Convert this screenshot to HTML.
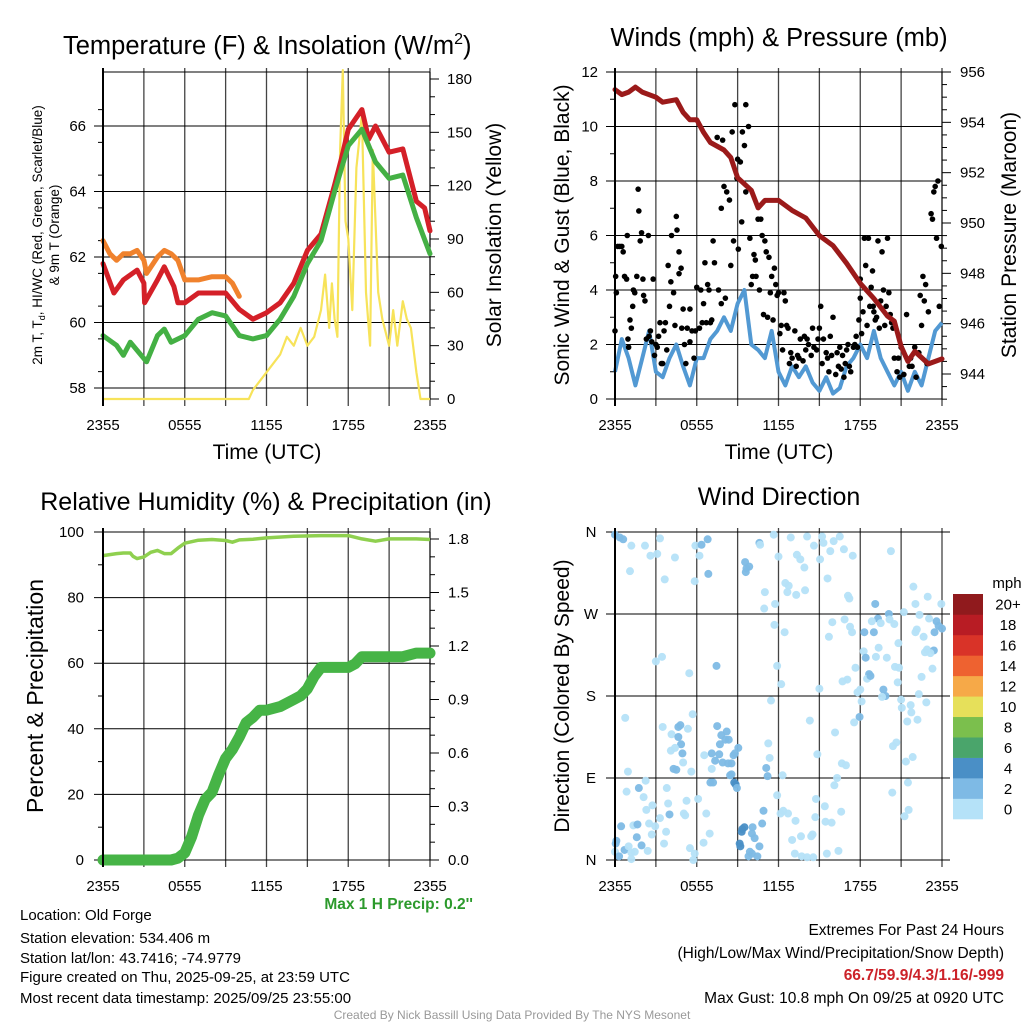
<!DOCTYPE html>
<html><head><meta charset="utf-8"><style>
body{margin:0;background:#fff;}
svg{display:block;font-family:"Liberation Sans",sans-serif;}
</style></head><body>
<svg id="c" width="1024" height="1024" viewBox="0 0 1024 1024"></svg>
<script>
// ---------- DATA ----------
const tempT = [0,0.8,1.5,2.5,3,3.05,4,4.5,5.2,5.5,6,7,8,9,10,11,12,13,14,15,16,17,17.5,18,19,19.5,20,21,22,23,23.6,24];
const tempV = [61.8,60.9,61.3,61.6,61.2,60.6,61.3,61.7,61.1,60.6,60.6,60.9,60.9,60.9,60.4,60.1,60.3,60.6,61.2,62.2,62.7,64.2,65.0,65.9,66.5,65.6,66.0,65.2,65.3,63.7,63.5,62.8];
const dewT = [0,1,1.5,2,3,3.2,4,4.5,5,6,7,8,9,10,11,12,13,14,15,16,17,18,19,20,21,22,23,24];
const dewV = [59.6,59.3,59.0,59.4,58.9,58.8,59.6,59.8,59.4,59.6,60.1,60.3,60.2,59.6,59.5,59.6,60.1,60.8,61.8,62.5,64.0,65.4,65.9,64.9,64.4,64.5,63.2,62.1];
const t9T = [0,0.5,1,1.5,2,2.5,3,3.2,4,4.5,5,5.5,6,7,8,9,9.5,10];
const t9V = [62.5,62.1,61.9,62.1,62.1,62.2,61.9,61.5,62.0,62.2,62.1,61.9,61.3,61.3,61.4,61.4,61.2,60.8];
const solT = [0,10.7,11,11.5,12,12.5,13,13.5,14,14.5,15,15.5,16,16.3,16.6,16.8,17,17.2,17.4,17.6,17.8,18,18.3,18.6,19,19.3,19.6,19.8,20.2,20.5,21,21.3,21.6,22,22.3,22.6,23,23.3,24];
const solV = [0,0,5,10,15,20,25,35,30,40,30,35,50,70,40,65,45,35,140,185,100,90,50,130,160,60,30,140,60,45,30,50,30,55,45,40,15,0,0];
const windT = [0,0.5,1,1.5,2,2.5,3,3.5,4,4.5,5,5.5,6,6.5,7,7.5,8,8.5,9,9.5,10,10.5,11,11.5,12,12.5,13,13.5,14,14.5,15,15.5,16,16.5,17,17.5,18,18.5,19,19.5,20,20.5,21,21.5,22,22.5,23,23.5,24];
const windV = [1,2.2,1.5,0.5,1.5,2.5,1,0.8,1.5,2,1.2,0.5,1.5,1.5,2.2,2.5,3,2.5,3.5,4,2,1.8,1.5,2.5,1,0.5,1.2,0.8,1.2,0.6,0.3,0.8,0.2,0.4,1.2,1.5,2,1.5,2.5,1.5,1,0.5,1,0.3,1,0.5,1.5,2.5,2.8];
const presT = [0,0.5,1,1.5,2,3,3.5,4.5,5,5.5,6,6.5,7,8,8.5,9,10,10.5,11,12,13,14,15,16,17,18,19,20,20.5,21,21.5,22,23,24];
const presV = [955.3,955.1,955.2,955.4,955.2,955.0,954.8,954.9,954.4,954.1,954.1,953.6,953.2,952.9,952.6,951.8,951.3,950.6,950.9,950.9,950.5,950.2,949.5,949.1,948.4,947.6,947.0,946.3,946.1,945.1,944.5,944.9,944.4,944.6];
const gusts = [[0,2.5],[0.05,4.5],[0.1,3.9],[0.2,5.6],[0.35,5.6],[0.5,5.6],[0.6,5.4],[0.7,4.5],[0.85,4.4],[0.9,6.0],[0.95,2.2],[1.0,1.9],[1.1,2.9],[1.2,2.6],[1.3,3.4],[1.35,4.0],[1.45,3.9],[1.6,4.5],[1.7,7.7],[1.75,6.9],[1.85,5.8],[1.95,6.1],[2.05,4.4],[2.1,3.8],[2.2,3.6],[2.3,2.2],[2.45,6.0],[2.5,2.3],[2.6,2.5],[2.7,2.1],[2.8,4.4],[2.9,1.6],[3.0,2.0],[3.1,1.9],[3.2,2.3],[3.3,2.8],[3.4,1.3],[3.5,1.3],[3.6,2.5],[3.7,2.8],[3.8,1.8],[3.9,4.9],[4.0,3.4],[4.1,4.3],[4.15,6.0],[4.3,3.9],[4.4,2.7],[4.5,6.7],[4.55,6.2],[4.7,4.6],[4.7,5.4],[4.85,4.8],[4.9,2.6],[5.0,3.3],[5.1,2.0],[5.2,1.3],[5.3,2.6],[5.5,2.1],[5.5,3.3],[5.65,2.5],[5.8,1.5],[5.9,2.5],[6.0,4.1],[6.2,2.6],[6.3,4.0],[6.4,2.8],[6.5,3.5],[6.6,5.0],[6.7,2.8],[6.8,4.2],[6.9,4.0],[7.0,2.8],[7.1,2.9],[7.2,5.8],[7.3,5.0],[7.5,9.6],[7.6,4.0],[7.8,3.5],[7.8,7.0],[7.9,9.5],[8.0,7.8],[8.1,3.7],[8.2,7.6],[8.4,7.3],[8.5,4.9],[8.6,9.8],[8.7,5.8],[8.8,10.8],[8.95,8.1],[9.0,8.8],[9.05,5.5],[9.2,8.7],[9.3,6.5],[9.35,9.8],[9.5,9.3],[9.6,7.6],[9.6,10.8],[9.8,10.0],[9.9,5.9],[10.0,4.2],[10.1,4.5],[10.2,5.3],[10.3,5.1],[10.35,4.5],[10.5,6.6],[10.6,4.0],[10.7,6.6],[10.8,6.0],[10.9,3.1],[11.0,5.8],[11.1,5.4],[11.2,3.0],[11.3,5.2],[11.4,3.9],[11.5,4.5],[11.6,2.9],[11.7,4.8],[11.8,4.2],[11.9,3.8],[12.0,3.9],[12.1,2.4],[12.2,2.7],[12.3,1.8],[12.4,3.9],[12.5,3.6],[12.6,2.7],[12.7,2.6],[12.8,1.3],[12.9,1.7],[13.0,1.5],[13.2,2.5],[13.3,1.2],[13.4,1.6],[13.5,1.5],[13.6,2.2],[13.8,1.4],[13.9,2.3],[14.0,1.8],[14.1,2.2],[14.2,2.0],[14.4,1.6],[14.5,2.6],[14.6,1.9],[14.8,1.8],[14.9,2.2],[15.0,2.6],[15.1,3.4],[15.2,1.3],[15.3,2.2],[15.5,1.7],[15.6,1.5],[15.7,1.0],[15.8,2.3],[15.9,1.6],[16.0,3.0],[16.2,0.9],[16.3,1.7],[16.4,1.2],[16.5,1.9],[16.6,1.1],[16.7,1.6],[16.8,0.8],[16.9,1.3],[17.0,1.8],[17.1,2.0],[17.2,1.2],[17.3,1.0],[17.5,1.9],[17.6,2.0],[17.7,2.3],[17.8,1.9],[17.9,2.9],[18.0,3.7],[18.0,4.4],[18.1,2.4],[18.2,3.2],[18.3,5.9],[18.4,4.9],[18.5,2.7],[18.6,5.9],[18.7,3.4],[18.8,4.1],[18.9,4.7],[18.95,3.4],[19.0,3.2],[19.1,2.9],[19.2,3.0],[19.3,5.8],[19.4,2.6],[19.5,3.6],[19.6,5.4],[19.7,4.0],[19.8,2.7],[19.9,3.4],[20.0,5.9],[20.1,3.9],[20.2,3.1],[20.3,2.8],[20.4,2.6],[20.5,1.5],[20.7,1.0],[20.8,1.5],[20.9,0.8],[21.0,1.9],[21.2,0.9],[21.4,3.1],[21.6,1.2],[21.7,1.5],[21.8,1.2],[22.0,1.9],[22.1,0.8],[22.3,1.7],[22.4,3.8],[22.5,2.7],[22.6,4.5],[22.7,3.6],[22.8,4.2],[22.9,1.3],[23.0,3.2],[23.2,6.8],[23.3,6.6],[23.4,7.6],[23.5,7.8],[23.6,5.9],[23.7,8.0],[23.8,3.4],[23.95,5.6]];
const rhT = [0,1,1.5,2,2.2,2.5,3,3.5,4,4.5,5,5.5,6,7,8,9,9.5,10,11,12,14,16,18,19,20,21,22,23,24];
const rhV = [92.8,93.4,93.6,93.6,92.6,91.9,92.4,93.8,94.4,93.4,93.4,95.1,96.6,97.5,97.7,97.4,96.9,97.6,97.8,98.2,98.7,98.9,98.9,97.9,97.2,97.9,97.9,97.9,97.7];
const prT = [0,5,5.5,6,6.5,7,7.5,8,8.5,9,9.5,10,10.5,11,11.5,12,13,14,14.5,15,15.5,16,17,18,18.5,19,20,21,22,23,24];
const prV = [0,0,0.01,0.04,0.13,0.25,0.34,0.38,0.48,0.57,0.62,0.69,0.77,0.80,0.84,0.84,0.86,0.90,0.92,0.96,1.03,1.08,1.08,1.08,1.10,1.14,1.14,1.14,1.14,1.16,1.16];
const dirs = [[0,357,1],[0.35,354,1],[0.6,352,1],[1.2,345,0],[1.1,317,0],[2.2,345,0],[2.6,334,0],[3.1,336,0],[3.3,353,0],[3.65,308,0],[4.4,332,0],[5.85,306,0],[5.9,345,0],[6.2,334,0],[6.35,346,1],[6.8,352,1],[6.85,314,1],[9.55,327,1],[9.65,320,1],[9.85,322,1],[9.6,316,1],[10.6,348,1],[10.65,346,0],[11.65,357,0],[12,333,0],[12.9,354,0],[13.35,335,0],[13.6,330,0],[13.9,321,0],[13.95,296,0],[14.1,355,0],[14.6,345,0],[15.05,330,0],[15.2,355,0],[15.3,348,0],[15.6,309,0],[15.8,339,0],[16.05,350,0],[16.5,355,0],[16.8,341,0],[17.45,334,0],[11,294,0],[11.75,281,0],[10.95,276,0],[12.5,304,0],[12.75,301,0],[12.65,294,0],[13.3,291,0],[11.7,258,0],[12.45,250,0],[17.1,290,0],[17.2,287,0],[20.25,339,0],[21.9,300,0],[22.95,289,0],[22.05,281,0],[23.95,281,0],[21.2,272,0],[22.35,269,0],[23.05,265,0],[19.1,281,1],[20.1,270,1],[19.3,265,1],[18.85,262,0],[19.5,260,0],[20.15,264,0],[20.5,259,0],[18.3,250,1],[19,250,1],[17.4,250,0],[17.25,256,0],[15.95,261,0],[16.85,264,0],[23.6,262,1],[23.75,257,1],[23.45,250,1],[24,254,1],[22.15,253,0],[22.65,245,0],[20.8,238,0],[22.05,250,0],[15.7,245,0],[18.25,229,0],[18.4,222,1],[19.15,223,0],[19.35,233,0],[19.95,222,0],[22.9,231,0],[22.75,228,0],[23.4,230,1],[23.15,227,0],[17.65,211,0],[20.55,212,0],[20.85,211,0],[18.65,204,1],[18.5,199,0],[18.75,202,1],[23.3,210,0],[22.5,201,0],[17.05,198,0],[16.7,196,0],[20.75,195,0],[18,187,0],[17.8,184,0],[19.7,187,1],[19.85,180,1],[19.6,179,0],[18.1,174,0],[21,176,0],[21.05,167,0],[21.7,170,0],[21.75,162,0],[22.3,182,0],[22.85,173,0],[17.95,157,1],[17.55,151,0],[21.45,152,0],[22.2,154,0],[16.15,140,0],[14.3,153,0],[15,188,0],[11.9,213,0],[12.2,193,0],[11.45,175,0],[7.45,213,1],[5.45,205,0],[3,218,0],[3.45,223,0],[0.75,156,0],[5.7,160,0],[3.5,146,0],[4.65,146,1],[4.8,148,1],[4.15,138,0],[5.35,144,0],[4.65,135,1],[4.85,127,1],[4.1,120,0],[4.4,123,0],[4.95,117,1],[5,107,0],[4.3,100,1],[4.5,99,1],[5.6,97,0],[0.95,97,0],[7.5,147,1],[8.2,141,1],[7.8,137,1],[8.1,132,1],[8.35,132,1],[7.7,127,1],[7.1,117,1],[7.65,116,1],[6.55,115,0],[7.35,109,1],[7.9,107,1],[8.3,106,1],[8.55,106,1],[8.7,115,1],[9.05,123,1],[8.8,117,1],[7.1,100,0],[8.45,93,1],[8.55,94,1],[8.75,85,2],[8.85,83,2],[8.95,79,1],[7,85,1],[7.2,85,1],[11.25,128,0],[11.35,112,0],[11.1,101,1],[11.2,92,1],[12.3,93,0],[14.85,116,0],[16.65,106,0],[16.95,104,0],[16.3,90,0],[16.1,82,0],[20.4,125,0],[20.65,129,0],[21.35,108,0],[21.85,113,0],[21.5,85,0],[20.35,74,0],[21.55,55,0],[21.25,48,0],[1.75,79,1],[0.85,75,0],[2.25,87,0],[2.1,69,0],[2.75,60,0],[2.3,55,0],[3.8,79,0],[3.9,62,0],[4,50,1],[3.3,46,0],[5.25,65,0],[6.1,67,0],[5.05,51,0],[5.15,49,0],[6.7,51,0],[11.9,71,0],[10.9,54,1],[12.15,51,0],[12.35,54,0],[12.7,51,0],[13.25,43,0],[14.75,67,0],[15.4,59,0],[16.6,53,0],[14.7,47,0],[15.45,42,0],[15.9,41,0],[0.45,37,1],[1.35,38,0],[1.65,39,1],[2.5,40,0],[2.95,37,0],[2.7,28,0],[3.75,31,0],[1.6,25,1],[1.95,16,1],[0.1,21,1],[0.05,18,1],[0.7,11,1],[1,15,0],[0,9,0],[0.3,4,1],[1.2,8,0],[1.45,9,0],[1.2,1,0],[2.4,10,0],[3.6,18,0],[5.5,13,0],[5.85,7,0],[5.75,0,0],[6.5,19,0],[6.95,29,0],[9.35,34,2],[9.5,36,2],[9.3,31,2],[10.1,36,1],[10.05,29,1],[10.25,24,1],[10.6,15,1],[10.8,40,1],[9.15,18,2],[9.2,15,2],[9.9,9,1],[10.05,7,1],[9.8,4,1],[10.45,4,1],[13,22,0],[13.65,26,0],[14.4,26,0],[14.5,28,0],[13.2,7,0],[13.7,4,0],[14.1,3,0],[14.55,3,0],[15.55,7,0],[16.4,10,0]];
const xTickLabels = ["2355","0555","1155","1755","2355"];
const cbLabels = ["0","2","4","6","8","10","12","14","16","18","20+"];
const cbColors = ["#b5e2f8","#7ebae5","#4a8fc6","#4aa56b","#7bbf4d","#e6e05a","#f6a948","#ee6230","#d93328","#b81c24","#901a1d"];

// ---------- HELPERS ----------
const NS="http://www.w3.org/2000/svg";
const svg=document.getElementById('c');
function mk(tag,attrs,parent){const e=document.createElementNS(NS,tag);for(const k in attrs)e.setAttribute(k,attrs[k]);(parent||svg).appendChild(e);return e;}
function txt(s,x,y,size,anchor,parent,extra){const e=mk('text',Object.assign({x:x,y:y,'font-size':size,'text-anchor':anchor||'start',fill:'#000'},extra||{}),parent);e.textContent=s;return e;}
function lin(x1,y1,x2,y2,stroke,w,parent){return mk('line',{x1:x1,y1:y1,x2:x2,y2:y2,stroke:stroke,'stroke-width':w},parent);}
function lsc(d0,d1,r0,r1){return v=>r0+(v-d0)*(r1-r0)/(d1-d0);}
function path(ts,vs,xs,ys){return ts.map((t,i)=>(i?'L':'M')+xs(t).toFixed(1)+','+ys(vs[i]).toFixed(1)).join('');}

function panel(name,L,R,T,B,labelY){
  const g=mk('g',{});
  
  
  const xs=lsc(0,24,L,R);
  for(let i=0;i<=8;i++){const x=xs(i*3);lin(x,T-4,x,B+7,(i==0)?'#000':'#444',(i==0)?2:1.3,g);}
  xTickLabels.forEach((s,i)=>{const e=txt(s,xs(i*6),labelY,15,'middle',g);});
  return {g,xs};
}

// ================ PANEL 1 ================
(function(){
  const L=103,R=430,T=72,B=399;
  const p=panel('temperature-panel',L,R,T,B,430);const g=p.g,xs=p.xs;
  const ys=lsc(58,66,388,126), ys2=lsc(0,180,399,79);
  lin(L,T,R,T,'#000',1,g);
  [58,60,62,64,66].forEach(v=>{lin(L-9,ys(v),R,ys(v),'#000',1,g);const e=txt(String(v),86,ys(v)+5,15,'end',g);});
  for(let v=58.5;v<67.5;v+=1){lin(L-5,ys(v),L,ys(v),'#000',1,g);}
  lin(R,T,R,B,'#000',1,g);
  for(let v=0;v<=180;v+=10){const maj=v%30==0;lin(R,ys2(v),R+(maj?9:5),ys2(v),'#000',1,g);if(maj){const e=txt(String(v),447,ys2(v)+5,15,'start',g);}}
  const sol=mk('path',{d:path(solT,solV,xs,ys2),fill:'none',stroke:'#f7e35a','stroke-width':2.2,'stroke-linejoin':'round'},g);
  
  const o=mk('path',{d:path(t9T,t9V,xs,ys),fill:'none',stroke:'#f0822d','stroke-width':5,'stroke-linejoin':'round','stroke-linecap':'round'},g);
  
  const r=mk('path',{d:path(tempT,tempV,xs,ys),fill:'none',stroke:'#d42028','stroke-width':5,'stroke-linejoin':'round','stroke-linecap':'round'},g);
  
  const d=mk('path',{d:path(dewT,dewV,xs,ys),fill:'none',stroke:'#44b044','stroke-width':5,'stroke-linejoin':'round','stroke-linecap':'round'},g);
  
  lin(L,T-4,L,B+7,'#000',2,g);
  const t=txt('Temperature (F) & Insolation (W/m',63,54,25.5,'start',g);
  const sup=mk('tspan',{dy:-10,'font-size':16},t);sup.textContent='2';
  const cl=mk('tspan',{dy:10},t);cl.textContent=')';
  
  const yl=mk('text',{transform:'translate(42,235) rotate(-90)','font-size':13.5,'text-anchor':'middle'},g);
  yl.textContent='2m T, T';const sb=mk('tspan',{'font-size':9,dy:3},yl);sb.textContent='d';const r2=mk('tspan',{dy:-3},yl);r2.textContent=', HI/WC (Red, Green, Scarlet/Blue)';
  
  const yl2=txt('& 9m T (Orange)',0,0,13.5,'middle',g,{transform:'translate(59,235) rotate(-90)'});
  
  const yr=txt('Solar Insolation (Yellow)',0,0,21,'middle',g,{transform:'translate(501,235) rotate(-90)'});
  
  const xl=txt('Time (UTC)',267,459,21,'middle',g);
  
})();

// ================ PANEL 2 ================
(function(){
  const L=615,R=942,T=72,B=399;
  const p=panel('wind-pressure-panel',L,R,T,B,430);const g=p.g,xs=p.xs;
  const ys=lsc(0,12,399,72), ys2=lsc(944,956,374,72);
  lin(L,T,R,T,'#000',1,g);
  for(let v=0;v<=12;v+=2){lin(L-9,ys(v),R,ys(v),'#000',1,g);const e=txt(String(v),598,ys(v)+5,15,'end',g);}
  for(let v=1;v<12;v+=2){lin(L-5,ys(v),L,ys(v),'#000',1,g);}
  lin(R,T,R,B,'#000',1,g);
  for(let v=943;v<=956.01;v+=0.5){const maj=Math.abs(v%2)<0.01;lin(R,ys2(v),R+(maj?9:5),ys2(v),'#000',1,g);if(maj){const e=txt(String(v),960,ys2(v)+5,15,'start',g);}}
  const w=mk('path',{d:path(windT,windV,xs,ys),fill:'none',stroke:'#5299d3','stroke-width':4,'stroke-linejoin':'round'},g);
  
  gusts.forEach(q=>{const c=mk('circle',{cx:xs(q[0]),cy:ys(q[1]),r:2.8,fill:'#000'},g);
    
    });
  const pr=mk('path',{d:path(presT,presV,xs,ys2),fill:'none',stroke:'#9b1a1a','stroke-width':5,'stroke-linejoin':'round','stroke-linecap':'round'},g);
  
  lin(L,T-4,L,B+7,'#000',2,g);
  const t=txt('Winds (mph) & Pressure (mb)',779,46,25.5,'middle',g);
  
  const yl=txt('Sonic Wind & Gust (Blue, Black)',0,0,21,'middle',g,{transform:'translate(569,235) rotate(-90)'});
  
  const yr=txt('Station Pressure (Maroon)',0,0,21,'middle',g,{transform:'translate(1016,235) rotate(-90)'});
  
  const xl=txt('Time (UTC)',779,459,21,'middle',g);
  
})();

// ================ PANEL 3 ================
(function(){
  const L=103,R=430,T=532,B=860;
  const p=panel('humidity-precip-panel',L,R,T,B,891);const g=p.g,xs=p.xs;
  const ys=lsc(0,100,860,532), ys2=lsc(0,1.8,860,539);
  for(let v=0;v<=100;v+=20){lin(L-9,ys(v),R,ys(v),'#000',1,g);const e=txt(String(v),84,ys(v)+5,15,'end',g);}
  for(let v=10;v<100;v+=20){lin(L-5,ys(v),L,ys(v),'#000',1,g);}
  lin(R,T,R,B,'#000',1,g);
  for(let i=0;i<=18;i++){const v=i/10;const maj=i%3==0;lin(R,ys2(v),R+(maj?9:5),ys2(v),'#000',1,g);if(maj){const e=txt(v.toFixed(1),448,ys2(v)+5,15,'start',g);}}
  const rh=mk('path',{d:path(rhT,rhV,xs,ys),fill:'none',stroke:'#8fd04f','stroke-width':3.5,'stroke-linejoin':'round'},g);
  
  const pr=mk('path',{d:path(prT,prV,xs,ys2),fill:'none',stroke:'#46b446','stroke-width':11,'stroke-linejoin':'round','stroke-linecap':'round'},g);
  
  lin(L,T-4,L,B+7,'#000',2,g);
  const t=txt('Relative Humidity (%) & Precipitation (in)',266,510,25,'middle',g);
  
  const yl=txt('Percent & Precipitation',0,0,23,'middle',g,{transform:'translate(43,696) rotate(-90)'});
  
  const m=txt("Max 1 H Precip: 0.2''",473,909,15.5,'end',g,{fill:'#2c9a2c','font-weight':'bold'});
  
})();

// ================ PANEL 4 ================
(function(){
  const L=615,R=942,T=532,B=860;
  const p=panel('wind-direction-panel',L,R,T,B,891);const g=p.g,xs=p.xs;
  const ys=lsc(0,360,860,532);
  const dl=['N','E','S','W','N'];
  for(let i=0;i<=4;i++){const v=i*90;lin(L-9,ys(v),950,ys(v),'#000',1,g);const e=txt(dl[i],591,ys(v)+5,15,'middle',g);}
  const cols=['#b5e2f8','#7ebae5','#4a8fc6'];
  dirs.forEach(q=>{const c=mk('circle',{cx:xs(q[0]),cy:ys(q[1]),r:4,fill:cols[q[2]],'fill-opacity':0.95},g);
    
    });
  lin(L,T-4,L,B+7,'#000',2,g);
  const t=txt('Wind Direction',779,505,25,'middle',g);
  
  const yl=txt('Direction (Colored By Speed)',0,0,21,'middle',g,{transform:'translate(569,696) rotate(-90)'});
  
  const cb=mk('g',{},g);
  
  const cbT=594,cbB=819,n=cbColors.length,h=(cbB-cbT)/n;
  for(let i=0;i<n;i++){const r=mk('rect',{x:953,y:cbB-(i+1)*h,width:30,height:h+0.3,fill:cbColors[i]},cb);
    
    }
  for(let i=0;i<cbLabels.length;i++){const e=txt(cbLabels[i],1008,cbB-i*h-h/2+5.5,15,'middle',cb);
    
    }
  const u=txt('mph',1007,588,15,'middle',cb);
  
})();

// ================ FOOTER ================
(function(){
  const g=mk('g',{});
  
  const left=['Location: Old Forge','Station elevation: 534.406 m','Station lat/lon: 43.7416; -74.9779','Figure created on Thu, 2025-09-25, at 23:59 UTC','Most recent data timestamp: 2025/09/25 23:55:00'];
  const ly=[920,943,963,982,1003];
  left.forEach((s,i)=>{const e=txt(s,20,ly[i],15,'start',g);});
  const a=txt('Extremes For Past 24 Hours',1004,935,15.5,'end',g);
  const b=txt('(High/Low/Max Wind/Precipitation/Snow Depth)',1004,958,15.5,'end',g);
  const c=txt('66.7/59.9/4.3/1.16/-999',1004,980,15.5,'end',g,{fill:'#cc2229','font-weight':'bold'});
  const d=txt('Max Gust: 10.8 mph On 09/25 at 0920 UTC',1004,1003,15.5,'end',g);
  const e=txt('Created By Nick Bassill Using Data Provided By The NYS Mesonet',512,1019,12,'middle',g,{fill:'#999'});
})();
</script>
</body></html>
